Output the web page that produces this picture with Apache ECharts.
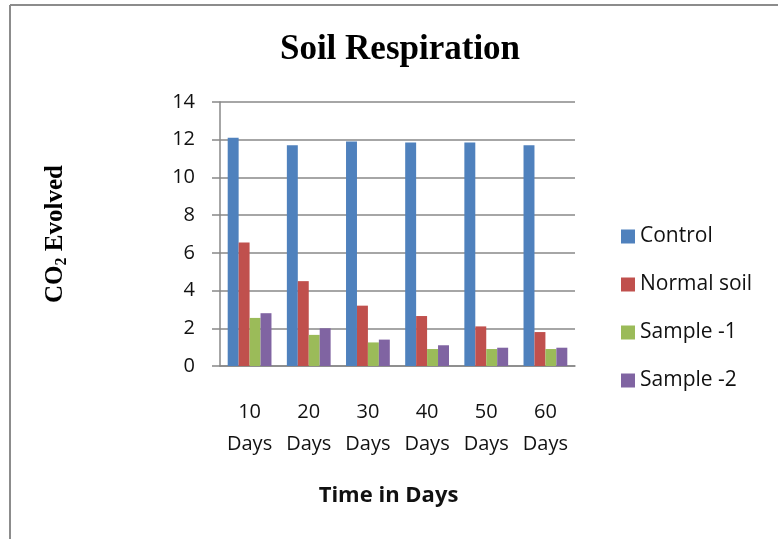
<!DOCTYPE html>
<html>
<head>
<meta charset="utf-8">
<script src="https://cdn.jsdelivr.net/npm/echarts@6/dist/echarts.min.js"></script>
<style>
  html, body { margin: 0; padding: 0; background: #fff; }
  #chart { width: 778px; height: 539px; }
</style>
</head>
<body>
<div id="chart"></div>
<script>
const days = ['10\nDays', '20\nDays', '30\nDays', '40\nDays', '50\nDays', '60\nDays'];
const control = [12.1, 11.7, 11.9, 11.85, 11.85, 11.7];
const normalSoil = [6.55, 4.5, 3.2, 2.65, 2.1, 1.8];
const sample1 = [2.55, 1.65, 1.25, 0.9, 0.9, 0.9];
const sample2 = [2.8, 2.0, 1.4, 1.1, 0.97, 0.97];

const labelFont = '"Open Sans", "Liberation Sans", sans-serif';
const serifFont = '"Liberation Serif", "DejaVu Serif", serif';

const chart = echarts.init(document.getElementById('chart'));

function bar(name, data, color) {
    return {
        name: name,
        type: 'bar',
        data: data,
        barGap: '0%',
        barCategoryGap: '26%',
        itemStyle: { color: color }
    };
}

chart.setOption({
    animation: false,
    title: {
        text: 'Soil Respiration',
        left: 395,
        textAlign: 'center',
        top: 27,
        textStyle: { fontFamily: serifFont, fontWeight: 'bold', fontSize: 35, color: '#000' }
    },
    legend: {
        orient: 'vertical',
        left: 616,
        top: 221,
        itemWidth: 14,
        itemHeight: 14,
        itemGap: 27,
        icon: 'rect',
        textStyle: { fontFamily: labelFont, fontSize: 21, color: '#111' }
    },
    grid: { left: 220, right: 203, top: 102, bottom: 173 },
    xAxis: {
        type: 'category',
        data: days,
        name: 'Time in Days',
        nameLocation: 'middle',
        nameGap: 119,
        nameTextStyle: { fontFamily: labelFont, fontWeight: 'bold', fontSize: 22, color: '#111', padding: [0, 18, 0, 0] },
        axisLine: { lineStyle: { color: '#888', width: 1.5 } },
        axisTick: { show: false },
        axisLabel: { fontFamily: labelFont, fontSize: 20, color: '#111', lineHeight: 32, margin: 30, interval: 0 }
    },
    yAxis: {
        type: 'value',
        min: 0,
        max: 14,
        interval: 2,
        name: '{a|CO}{b|2}{a| Evolved}',
        nameLocation: 'middle',
        nameGap: 150,
        nameTextStyle: {
            rich: {
                a: { fontFamily: serifFont, fontWeight: 'bold', fontSize: 25, color: '#000' },
                b: { fontFamily: serifFont, fontWeight: 'bold', fontSize: 16, color: '#000', padding: [12, 0, 0, 0] }
            }
        },
        axisLine: { show: true, lineStyle: { color: '#888', width: 1.5 } },
        axisTick: { show: true, inside: false, length: 8, lineStyle: { color: '#888', width: 1.5 } },
        splitLine: { lineStyle: { color: '#888', width: 1.5 } },
        axisLabel: { fontFamily: labelFont, fontSize: 20, color: '#111', margin: 25 }
    },
    graphic: [
        { type: 'line', shape: { x1: 10, y1: 5, x2: 778, y2: 5 }, style: { stroke: '#8c8c8c', lineWidth: 2 } },
        { type: 'line', shape: { x1: 10, y1: 5, x2: 10, y2: 539 }, style: { stroke: '#8c8c8c', lineWidth: 2 } }
    ],
    series: [
        bar('Control', control, '#4F81BD'),
        bar('Normal soil', normalSoil, '#C0504D'),
        bar('Sample -1', sample1, '#9BBB59'),
        bar('Sample -2', sample2, '#8064A2')
    ]
});
</script>
</body>
</html>
